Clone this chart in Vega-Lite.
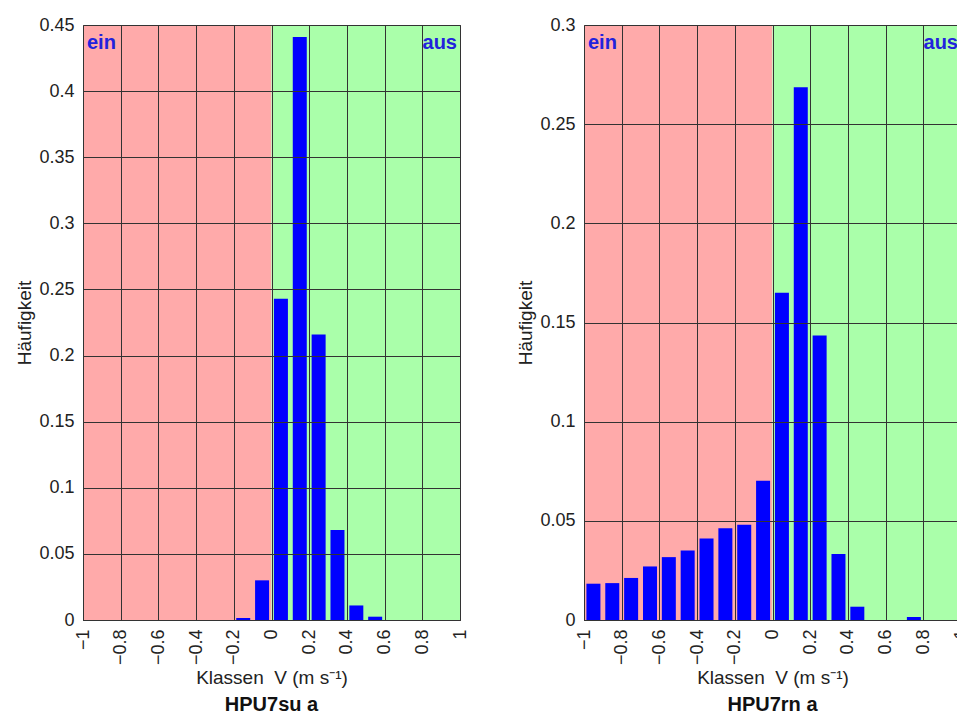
{
  "$schema": "https://vega.github.io/schema/vega-lite/v6.json",
  "padding": {"left": 15, "top": 7, "right": 0, "bottom": 0},
  "background": "white",
  "spacing": 46,
  "align": "none",
  "config": {
    "font": "Liberation Sans",
    "view": {"stroke": "#333", "strokeWidth": 1},
    "axis": {
      "labelFont": "Liberation Sans", "labelFontSize": 18, "labelColor": "#222",
      "titleFont": "Liberation Sans", "titleFontSize": 19, "titleFontWeight": "normal", "titleColor": "#222",
      "gridColor": "#333", "gridOpacity": 1, "domainColor": "#333", "ticks": false,
      "labelOverlap": false, "labelFlush": false
    },
    "title": {"font": "Liberation Sans", "fontSize": 20, "fontWeight": "bold", "color": "#111", "orient": "bottom", "anchor": "middle", "offset": 7}
  },
  "hconcat": [
    {
      "width": 377, "height": 595,
      "title": {"text": "HPU7su a"},
      "resolve": {"axis": {"x": "independent", "y": "independent"}},
      "layer": [
        {
          "data": {"values": [{"zone": "ein", "lo": -1, "hi": 0}, {"zone": "aus", "lo": 0, "hi": 1}]},
          "mark": {"type": "rect"},
          "encoding": {
            "x": {"field": "lo", "type": "quantitative", "scale": {"domain": [-1, 1], "nice": false, "zero": false, "padding": 0},
                  "axis": {"orient": "top", "labels": false, "domain": false, "grid": false, "ticks": true, "tickSize": 17, "tickColor": "transparent", "title": null, "values": [0]}},
            "x2": {"field": "hi"},
            "color": {"field": "zone", "type": "nominal", "scale": {"domain": ["ein", "aus"], "range": ["#ffaaaa", "#aaffaa"]}, "legend": null}
          }
        },
        {
          "data": {"values": [
            {"v": -0.15, "f": 0.0015}, {"v": -0.05, "f": 0.030}, {"v": 0.05, "f": 0.243}, {"v": 0.15, "f": 0.441},
            {"v": 0.25, "f": 0.216}, {"v": 0.35, "f": 0.068}, {"v": 0.45, "f": 0.011}, {"v": 0.55, "f": 0.0025}
          ]},
          "mark": {"type": "bar", "width": 14, "color": "#0000ff"},
          "encoding": {
            "x": {"field": "v", "type": "quantitative", "scale": {"domain": [-1, 1], "nice": false, "zero": false, "padding": 0},
                  "axis": {"orient": "bottom", "values": [-1, -0.8, -0.6, -0.4, -0.2, 0, 0.2, 0.4, 0.6, 0.8, 1], "format": "~g", "labelAngle": 270, "labelAlign": "right", "labelBaseline": "middle", "labelPadding": 9, "grid": true, "zindex": 1, "title": "Klassen\u00a0\u00a0V (m s⁻¹)", "titlePadding": 4}},
            "y": {"field": "f", "type": "quantitative", "scale": {"domain": [0, 0.45], "nice": false, "padding": 0},
                  "axis": {"orient": "left", "values": [0, 0.05, 0.1, 0.15, 0.2, 0.25, 0.3, 0.35, 0.4, 0.45], "format": "~g", "labelPadding": 9, "grid": true, "zindex": 1, "title": "Häufigkeit", "titlePadding": 4}}
          }
        },
        {
          "data": {"values": [{"label": "ein"}]},
          "mark": {"type": "text", "align": "left", "baseline": "top", "dx": 4, "dy": 8, "fontSize": 20, "fontWeight": "bold", "color": "#2222dd"},
          "encoding": {"text": {"field": "label"}, "x": {"datum": -1, "type": "quantitative", "axis": null}, "y": {"datum": 0.45, "type": "quantitative", "axis": null}}
        },
        {
          "data": {"values": [{"label": "aus"}]},
          "mark": {"type": "text", "align": "right", "baseline": "top", "dx": -3, "dy": 8, "fontSize": 20, "fontWeight": "bold", "color": "#2222dd"},
          "encoding": {"text": {"field": "label"}, "x": {"datum": 1, "type": "quantitative", "axis": null}, "y": {"datum": 0.45, "type": "quantitative", "axis": null}}
        }
      ]
    },
    {
      "width": 377, "height": 595,
      "title": {"text": "HPU7rn a"},
      "resolve": {"axis": {"x": "independent", "y": "independent"}},
      "layer": [
        {
          "data": {"values": [{"zone": "ein", "lo": -1, "hi": 0}, {"zone": "aus", "lo": 0, "hi": 1}]},
          "mark": {"type": "rect"},
          "encoding": {
            "x": {"field": "lo", "type": "quantitative", "scale": {"domain": [-1, 1], "nice": false, "zero": false, "padding": 0}, "axis": null},
            "x2": {"field": "hi"},
            "color": {"field": "zone", "type": "nominal", "scale": {"domain": ["ein", "aus"], "range": ["#ffaaaa", "#aaffaa"]}, "legend": null}
          }
        },
        {
          "data": {"values": [
            {"v": -0.95, "f": 0.0183}, {"v": -0.85, "f": 0.0186}, {"v": -0.75, "f": 0.0212}, {"v": -0.65, "f": 0.027},
            {"v": -0.55, "f": 0.0317}, {"v": -0.45, "f": 0.0351}, {"v": -0.35, "f": 0.0411}, {"v": -0.25, "f": 0.0462},
            {"v": -0.15, "f": 0.048}, {"v": -0.05, "f": 0.0702}, {"v": 0.05, "f": 0.165}, {"v": 0.15, "f": 0.2686},
            {"v": 0.25, "f": 0.1434}, {"v": 0.35, "f": 0.0333}, {"v": 0.45, "f": 0.0067}, {"v": 0.75, "f": 0.0015}
          ]},
          "mark": {"type": "bar", "width": 14, "color": "#0000ff"},
          "encoding": {
            "x": {"field": "v", "type": "quantitative", "scale": {"domain": [-1, 1], "nice": false, "zero": false, "padding": 0},
                  "axis": {"orient": "bottom", "values": [-1, -0.8, -0.6, -0.4, -0.2, 0, 0.2, 0.4, 0.6, 0.8, 1], "format": "~g", "labelAngle": 270, "labelAlign": "right", "labelBaseline": "middle", "labelPadding": 9, "grid": true, "zindex": 1, "title": "Klassen\u00a0\u00a0V (m s⁻¹)", "titlePadding": 4}},
            "y": {"field": "f", "type": "quantitative", "scale": {"domain": [0, 0.3], "nice": false, "padding": 0},
                  "axis": {"orient": "left", "values": [0, 0.05, 0.1, 0.15, 0.2, 0.25, 0.3], "format": "~g", "labelPadding": 9, "grid": true, "zindex": 1, "title": "Häufigkeit", "titlePadding": 4}}
          }
        },
        {
          "data": {"values": [{"label": "ein"}]},
          "mark": {"type": "text", "align": "left", "baseline": "top", "dx": 4, "dy": 8, "fontSize": 20, "fontWeight": "bold", "color": "#2222dd"},
          "encoding": {"text": {"field": "label"}, "x": {"datum": -1, "type": "quantitative", "axis": null}, "y": {"datum": 0.3, "type": "quantitative", "axis": null}}
        },
        {
          "data": {"values": [{"label": "aus"}]},
          "mark": {"type": "text", "align": "right", "baseline": "top", "dx": -3, "dy": 8, "fontSize": 20, "fontWeight": "bold", "color": "#2222dd"},
          "encoding": {"text": {"field": "label"}, "x": {"datum": 1, "type": "quantitative", "axis": null}, "y": {"datum": 0.3, "type": "quantitative", "axis": null}}
        }
      ]
    }
  ]
}
